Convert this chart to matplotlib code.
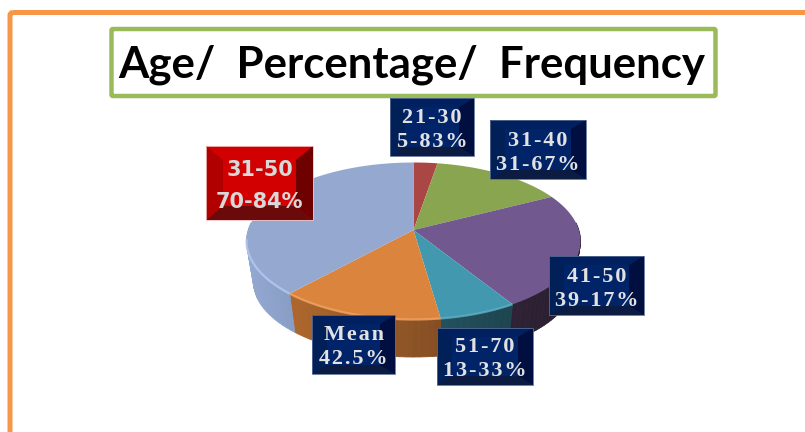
"""Age / percentage / frequency pie, drawn as a tilted 3D pie with bevelled labels."""

import numpy as np
import matplotlib
matplotlib.use("Agg")
import matplotlib.pyplot as plt
from matplotlib.colors import to_rgb
from matplotlib.patches import FancyBboxPatch, Polygon, Rectangle


TITLE = "Age/  Percentage/  Frequency"

# slice shares, clockwise from 12 o'clock
slice_names = ["21-30", "31-40", "41-50", "51-70", "Mean", "31-50"]
slice_shares = [2.3, 13.2, 24.4, 7.5, 15.9, 36.7]

label_line1 = ["21-30", "31-40", "41-50", "51-70", "Mean", "31-50"]
label_line2 = ["5-83%", "31-67%", "39-17%", "13-33%", "42.5%", "70-84%"]

TOP_COLORS = ["#aa4644", "#8aa54f", "#71588f", "#4198af", "#db843d", "#95a9d0"]
SIDE_COLORS = ["#6e2c2b", "#5a6c33", "#42304c", "#296170", "#a05f2a", "#7f92b6"]
RIM_COLORS = [None, None, None, "#5fb0c6", "#f3a663", "#b4cbf2"]

# label boxes in pixels: left, right, top, bottom
LABEL_BOXES = [
    (390, 474, 98, 156),
    (490, 586, 120, 179),
    (549, 644, 256, 315),
    (437, 533, 328, 385),
    (312, 395, 315, 374),
    (206, 313, 146, 220),
]

BLUE_BEVEL = dict(center="#012469", top="#01205f", left="#012058", right="#000f3f", bottom="#0b1b42")
RED_BEVEL = dict(center="#d20000", top="#d20000", left="#b00000", right="#6e0000", bottom="#6b0a0a")

CX, CY, RX, RY = 413.5, 241.0, 167.0, 78.5
APEX_Y = 230.0
BOT_CX, BOT_CY, BOT_RX, BOT_RY = 413.5, 282.0, 160.0, 75.0


def top_edge(phi):
    return CX + RX * np.sin(phi), CY - RY * np.cos(phi)


def bottom_edge(phi):
    return BOT_CX + BOT_RX * np.sin(phi), BOT_CY - BOT_RY * np.cos(phi)


def side_shade(phi):
    # darker towards the front-right, lighter on the left
    s = 0.5 - 0.5 * np.sin(phi)
    return 0.6 + 0.55 * s


def draw_pie(ax):
    fracs = np.array(slice_shares) / sum(slice_shares)
    edges = np.concatenate([[0], np.cumsum(fracs)]) * 2 * np.pi

    # sides go first, the top faces cover whatever is behind
    for i in range(len(fracs)):
        steps = np.linspace(edges[i], edges[i + 1], max(3, int(fracs[i] * 160)))
        base = np.array(to_rgb(SIDE_COLORS[i]))
        for a, b in zip(steps[:-1], steps[1:]):
            if np.cos((a + b) / 2) > 0.25:
                continue
            x0, y0 = top_edge(a)
            x1, y1 = top_edge(b)
            x2, y2 = bottom_edge(b)
            x3, y3 = bottom_edge(a)
            col = np.clip(base * side_shade((a + b) / 2), 0, 1)
            ax.add_patch(Polygon([(x0, y0), (x1, y1), (x2, y2), (x3, y3)], closed=True,
                                 facecolor=col, edgecolor=col, lw=0.6, zorder=2))

    for i in range(len(fracs)):
        phi = np.linspace(edges[i], edges[i + 1], 80)
        xs, ys = top_edge(phi)
        pts = [(CX, APEX_Y)] + list(zip(xs, ys))
        ax.add_patch(Polygon(pts, closed=True, facecolor=TOP_COLORS[i], edgecolor="none", zorder=3))
        if RIM_COLORS[i]:
            front = phi[np.cos(phi) < 0.05]
            rx, ry = top_edge(front)
            ax.plot(rx, ry, color=RIM_COLORS[i], lw=1.6, alpha=0.8, zorder=4, solid_capstyle="butt")


def draw_label(ax, box, line1, line2, bevel, red=False):
    x0, x1, y0, y1 = box
    b = 15 if not red else 17
    bh = 9 if not red else 14
    ax.add_patch(Rectangle((x0, y0), x1 - x0, y1 - y0, facecolor=bevel["center"], edgecolor="none", zorder=5))
    faces = {
        "top": [(x0, y0), (x1, y0), (x1 - b, y0 + bh), (x0 + b, y0 + bh)],
        "bottom": [(x0, y1), (x1, y1), (x1 - b, y1 - bh), (x0 + b, y1 - bh)],
        "left": [(x0, y0), (x0 + b, y0 + bh), (x0 + b, y1 - bh), (x0, y1)],
        "right": [(x1, y0), (x1 - b, y0 + bh), (x1 - b, y1 - bh), (x1, y1)],
    }
    for name, pts in faces.items():
        ax.add_patch(Polygon(pts, closed=True, facecolor=bevel[name], edgecolor="none", zorder=6))
    edge = "#f2c0c0" if red else "#5a6c94"
    ax.add_patch(Rectangle((x0, y0), x1 - x0, y1 - y0, fill=False, edgecolor=edge, lw=0.6, zorder=7))

    mid = (x0 + x1) / 2
    cy = (y0 + y1) / 2 + (2.5 if red else 3)
    gap = 16 if red else 12
    if red:
        style = dict(family="DejaVu Sans", fontsize=15, fontweight="bold", color="#d8d8d8")
        sep = ""
    else:
        style = dict(family="Liberation Serif", fontsize=16, fontweight="bold", color="#e2e2e2")
        sep = "\u200a"
    ax.text(mid, cy - gap, sep.join(line1), ha="center", va="center", zorder=8, **style)
    ax.text(mid, cy + gap, sep.join(line2), ha="center", va="center", zorder=8, **style)


def main():
    fig = plt.figure(figsize=(8.05, 4.32), dpi=100, facecolor="white")
    ax = fig.add_axes([0, 0, 1, 1])
    ax.set_xlim(0, 805)
    ax.set_ylim(432, 0)
    ax.axis("off")

    # outer orange frame runs off the right and bottom of the picture
    ax.add_patch(FancyBboxPatch((10, 12.5), 900, 600, boxstyle="round,pad=0,rounding_size=3",
                                fill=False, edgecolor="#f79646", lw=3.6, zorder=1))

    ax.add_patch(FancyBboxPatch((111.5, 29), 604, 67, boxstyle="round,pad=0,rounding_size=1.5",
                                facecolor="white", edgecolor="#9bbb59", lw=3.2, zorder=1))
    ax.text(412, 65, TITLE, ha="center", va="center", family="Lato", fontweight="bold",
            fontsize=31.5, color="black", zorder=2)

    draw_pie(ax)

    for i, box in enumerate(LABEL_BOXES):
        red = slice_names[i] == "31-50"
        draw_label(ax, box, label_line1[i], label_line2[i], RED_BEVEL if red else BLUE_BEVEL, red)

    fig.savefig("out.png", dpi=100, facecolor="white")
    plt.close(fig)


if __name__ == "__main__":
    main()
